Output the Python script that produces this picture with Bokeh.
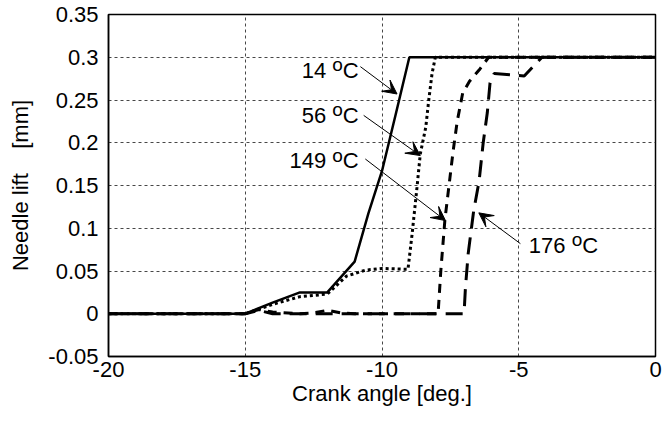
from bokeh.plotting import figure
from bokeh.models import Range1d, FixedTicker, Arrow, VeeHead, ColumnDataSource
from bokeh.core.properties import value
from bokeh.embed import file_html
from bokeh.resources import INLINE

# Needle lift traces [mm] against crank angle [deg.] at four fuel temperatures
angle_14 = [-20, -15, -14, -13, -12, -11, -10.5, -10, -9.5, -9, 0]
lift_14 = [0, 0, 0.013, 0.025, 0.025, 0.061, 0.117, 0.167, 0.233, 0.3, 0.3]

angle_56 = [-20, -15, -14, -13, -12, -11.3, -10.6, -10, -9.05, -8.9, -8.72,
            -8.6, -8.4, -8.29, -8.17, -8.05, 0]
lift_56 = [0, 0, 0.011, 0.02, 0.023, 0.044, 0.051, 0.053, 0.052, 0.093, 0.148,
           0.187, 0.218, 0.25, 0.281, 0.3, 0.3]

angle_149 = [-20, -15, -14.5, -14, -13, -12.5, -12, -11.5, -11, -7.95, -7.85,
             -7.7, -7.55, -7.4, -7.25, -7.05, -6.8, -6.45, -6.1, 0]
lift_149 = [0, 0, 0.005, 0.002, 0, 0.001, 0.004, 0.001, 0, 0, 0.05,
            0.11, 0.15, 0.19, 0.225, 0.258, 0.272, 0.285, 0.3, 0.3]

angle_176 = [-20, -15, -14.5, -14, -7.0, -6.95, -6.85, -6.65, -6.45, -6.3,
             -6.15, -6.05, -5.9, -4.8, -4.15, 0]
lift_176 = [0, 0, 0.004, 0, 0, 0.03, 0.07, 0.12, 0.155, 0.2,
            0.235, 0.27, 0.281, 0.278, 0.3, 0.3]

x_ticks = [-20, -15, -10, -5, 0]
x_tick_labels = ["-20", "-15", "-10", "-5", "0"]
y_ticks = [-0.05, 0, 0.05, 0.1, 0.15, 0.2, 0.25, 0.3, 0.35]
y_tick_labels = ["-0.05", "0", "0.05", "0.1", "0.15", "0.2", "0.25", "0.3", "0.35"]

# Temperature callouts: label anchor and arrow from label to trace
temps = ["14", "56", "149", "176"]
label_x = [-10.85, -10.85, -10.85, -4.63]
label_y = [0.285, 0.232, 0.179, 0.080]
label_side = ["right", "right", "right", "left"]
arrow_x0 = [-10.79, -10.67, -10.61, -4.94]
arrow_y0 = [0.289, 0.232, 0.181, 0.082]
arrow_x1 = [-9.45, -8.6, -7.68, -6.46]
arrow_y1 = [0.257, 0.185, 0.109, 0.118]

FONT = "Liberation Sans"
FS = 22      # axis text size
AFS = 22     # callout text size
OFS = 19     # raised "o" size

p = figure(width=667, height=425, output_backend="svg", toolbar_location=None,
           x_range=Range1d(-20, 0), y_range=Range1d(-0.05, 0.35),
           min_border_left=108, min_border_right=12, min_border_top=14,
           min_border_bottom=69)
p.background_fill_color = "white"
p.border_fill_color = "white"
p.outline_line_color = "black"
p.outline_line_width = 1.5
p.outline_line_alpha = 1.0

p.xaxis.ticker = FixedTicker(ticks=x_ticks)
p.yaxis.ticker = FixedTicker(ticks=y_ticks)
p.xaxis.major_label_overrides = {t: s for t, s in zip(x_ticks, x_tick_labels)}
p.yaxis.major_label_overrides = {t: s for t, s in zip(y_ticks, y_tick_labels)}
p.xaxis.axis_label = "Crank angle [deg.]"
p.yaxis.axis_label = "Needle lift\u00a0\u00a0\u00a0\u00a0[mm]"
for ax in p.axis:
    ax.axis_line_color = "black"
    ax.axis_line_width = 1.5
    ax.major_tick_out = 0
    ax.major_tick_in = 0
    ax.minor_tick_out = 0
    ax.minor_tick_in = 0
    ax.major_label_text_font = FONT
    ax.major_label_text_font_size = f"{FS}px"
    ax.major_label_text_color = "black"
    ax.axis_label_text_font = FONT
    ax.axis_label_text_font_size = f"{FS}px"
    ax.axis_label_text_font_style = "normal"
    ax.axis_label_text_color = "black"
p.xaxis.major_label_standoff = 5
p.xaxis.axis_label_standoff = 1
p.yaxis.major_label_standoff = 10
p.yaxis.axis_label_standoff = 12

p.xgrid.ticker = FixedTicker(ticks=[-15, -10, -5])
p.ygrid.ticker = FixedTicker(ticks=[0.05, 0.1, 0.15, 0.2, 0.25, 0.3])
for g in (p.xgrid, p.ygrid):
    g.grid_line_color = "#333333"
    g.grid_line_width = 1
    g.grid_line_dash = "3 3"
    g.grid_line_alpha = 0.9

# traces
p.line(angle_176, lift_176, line_color="black", line_width=3, line_dash="17 9")
p.line(angle_149, lift_149, line_color="black", line_width=3, line_dash="9 7")
p.line(angle_56, lift_56, line_color="black", line_width=3, line_dash="3 3")
p.line(angle_14, lift_14, line_color="black", line_width=2.5)

# arrows
for x0, y0, x1, y1 in zip(arrow_x0, arrow_y0, arrow_x1, arrow_y1):
    p.add_layout(Arrow(x_start=x0, y_start=y0, x_end=x1, y_end=y1,
                       line_color="black", line_width=1,
                       end=VeeHead(size=14, fill_color="black", line_color="black",
                                   line_width=1)))

# callout labels: number, space, raised "o", then "C"
digit_w = 0.556 * AFS
space_w = 0.278 * AFS
o_w = 0.556 * OFS
c_w = 0.722 * AFS
num_src = dict(x=[], y=[], t=[], dx=[])
o_src = dict(x=[], y=[], t=[], dx=[])
c_src = dict(x=[], y=[], t=[], dx=[])
for t, x, y, side in zip(temps, label_x, label_y, label_side):
    n_w = len(t) * digit_w
    total = n_w + space_w + o_w + c_w
    start = -total if side == "right" else 0.0
    num_src["x"].append(x); num_src["y"].append(y); num_src["t"].append(t)
    num_src["dx"].append(start)
    o_src["x"].append(x); o_src["y"].append(y); o_src["t"].append("o")
    o_src["dx"].append(start + n_w + space_w)
    c_src["x"].append(x); c_src["y"].append(y); c_src["t"].append("C")
    c_src["dx"].append(start + n_w + space_w + o_w)

for src, dy, fs in ((num_src, 0, AFS), (o_src, -5.5, OFS), (c_src, 0, AFS)):
    p.text(x="x", y="y", text="t", x_offset="dx", y_offset=dy,
           source=ColumnDataSource(src), text_font=value(FONT),
           text_font_size=f"{fs}px", text_align="left", text_baseline="middle",
           text_color="black")

open("out.html", "w").write(file_html(p, INLINE))
